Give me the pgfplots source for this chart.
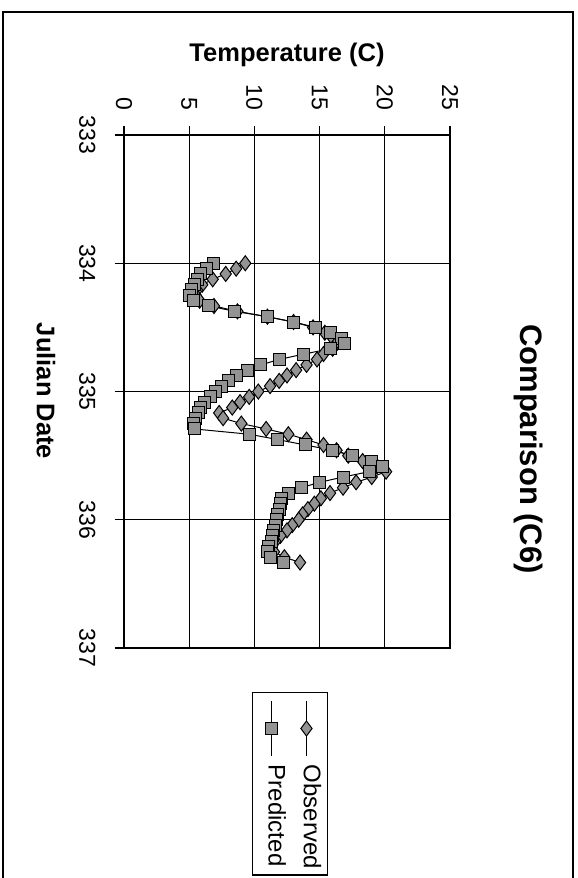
\documentclass[border=0pt]{standalone}
\usepackage{fontspec}
\setmainfont{Liberation Sans}
\usepackage{pgfplots}
\usepackage{pgfplotstable}
\pgfplotsset{compat=1.18}

% observed and predicted temperature, hourly, Julian date D
\pgfplotstableread{
D T
334.000 9.3
334.042 8.6
334.083 7.8
334.125 6.8
334.167 6.0
334.208 5.6
334.250 5.5
334.292 5.8
334.333 6.9
334.375 8.7
334.417 11.0
334.458 13.0
334.500 14.5
334.542 15.4
334.583 16.0
334.625 16.3
334.667 16.0
334.708 15.3
334.750 14.8
334.792 14.0
334.833 13.2
334.875 12.5
334.917 11.9
334.958 11.2
335.000 10.3
335.042 9.6
335.083 8.9
335.125 8.3
335.167 7.3
335.208 7.6
335.250 9.0
335.292 10.9
335.333 12.6
335.375 14.0
335.417 15.3
335.458 16.3
335.500 17.2
335.542 18.3
335.583 19.4
335.625 20.1
335.667 19.0
335.708 17.8
335.750 16.8
335.792 15.8
335.833 15.1
335.875 14.6
335.917 14.1
335.958 13.7
336.000 13.4
336.042 12.9
336.083 12.5
336.125 12.0
336.167 11.6
336.208 11.3
336.250 11.5
336.292 12.3
336.333 13.5
}\observed

\pgfplotstableread{
D T
334.000 6.9
334.042 6.3
334.083 5.9
334.125 5.6
334.167 5.4
334.208 5.2
334.250 5.0
334.292 5.3
334.333 6.5
334.375 8.5
334.417 11.0
334.458 13.0
334.500 14.7
334.542 15.8
334.583 16.7
334.625 16.9
334.667 15.8
334.708 13.8
334.750 11.9
334.792 10.5
334.833 9.5
334.875 8.6
334.917 8.0
334.958 7.5
335.000 7.0
335.042 6.6
335.083 6.2
335.125 5.9
335.167 5.7
335.208 5.5
335.250 5.3
335.292 5.4
335.333 9.6
335.375 11.8
335.417 13.9
335.458 16.0
335.500 17.5
335.542 19.0
335.583 19.8
335.625 18.8
335.667 16.8
335.708 15.0
335.750 13.6
335.792 12.6
335.833 12.1
335.875 12.0
335.917 11.9
335.958 11.8
336.000 11.7
336.042 11.6
336.083 11.5
336.125 11.4
336.167 11.3
336.208 11.1
336.250 11.0
336.292 11.2
336.333 12.2
}\predicted

% legend sample drawn upright, with its (turned) text below it
\newcommand{\uprightlegend}[1]{%
  \path (-16pt,0pt);
  \draw[mark repeat=2, mark phase=2] plot coordinates {(0pt,0pt) (0pt,-27pt) (0pt,-55pt)};
  \node[rotate=-90, anchor=mid west, inner sep=0pt, text=black,
        font=\fontsize{24}{24}\selectfont] at (0pt,-63pt) {#1};}

\begin{document}
\begin{tikzpicture}[x=1pt,y=1pt]
\useasboundingbox (0,0) rectangle (578,-878);
\draw[line width=1.3pt] (3,-12) rectangle (573,-900);

\node[font=\bfseries\fontsize{25.5}{26}\selectfont] at (287,-55) {Temperature (C)};
\node[font=\bfseries\fontsize{25.5}{26}\selectfont, rotate=-90] at (46,-391) {Julian Date};
\node[font=\bfseries\fontsize{31}{32}\selectfont, rotate=-90] at (529,-449) {Comparison (C6)};

\begin{axis}[
    at={(124pt,-135pt)}, anchor=north west,
    width=326pt, height=513pt, scale only axis,
    xmin=0, xmax=25, ymin=333, ymax=337, y dir=reverse,
    xtick={0,5,10,15,20,25}, ytick={333,334,335,336,337},
    grid=major,
    major grid style={black, line width=1.2pt},
    axis line style={line width=1.2pt},
    tick align=outside, major tick length=9pt,
    tick style={black, line width=1.2pt},
    xtick pos=right, xticklabel pos=right, ytick pos=left,
    /pgf/number format/assume math mode=true,
    /pgf/number format/1000 sep={},
    xticklabel style={yshift=12pt, rotate=-90, anchor=east, font=\fontsize{23}{23}\selectfont},
    yticklabel style={xshift=-16pt, rotate=-90, anchor=north, font=\fontsize{23}{23}\selectfont},
    legend columns=2, reverse legend,
    legend style={at={(axis description cs:0.393,-0.086)}, anchor=north west,
        draw=black, line width=1.2pt, column sep=0pt,
        inner xsep=2pt, inner ysep=6pt},
]
\addplot[black, line width=1pt, mark=diamond*, mark size=7.5pt,
    mark options={fill=gray!85, draw=black, line width=1pt},
    legend image code/.code={\uprightlegend{Observed}}]
    table[x=T, y=D] {\observed};
\addlegendentry{\hbox{}}
\addplot[black, line width=1pt, mark=square*, mark size=6pt,
    mark options={fill=gray!85, draw=black, line width=1pt},
    legend image code/.code={\uprightlegend{Predicted}}]
    table[x=T, y=D] {\predicted};
\addlegendentry{\hbox{}}
\end{axis}
\end{tikzpicture}
\end{document}
